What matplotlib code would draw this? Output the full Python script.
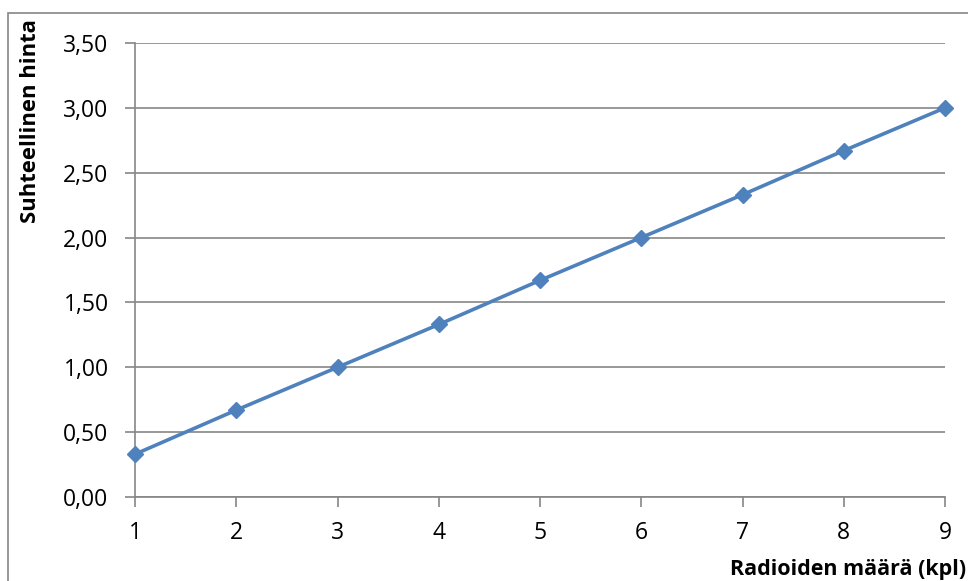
import matplotlib
matplotlib.use("Agg")
import matplotlib.pyplot as plt
from matplotlib.patches import Rectangle
from matplotlib.ticker import FuncFormatter, MultipleLocator

radios = [1, 2, 3, 4, 5, 6, 7, 8, 9]
relative_price = [0.33, 0.67, 1.00, 1.33, 1.67, 2.00, 2.33, 2.67, 3.00]
x_label = "Radioiden määrä (kpl)"
y_label = "Suhteellinen hinta"

plt.rcParams['font.family'] = ['Open Sans', 'DejaVu Sans']

fig = plt.figure(figsize=(9.68, 5.81), dpi=100)
ax = fig.add_axes([135/968, 1-497/581, (945-135)/968, (497-43)/581])

grid_c = '#868686'
ax.plot(radios, relative_price, color='#4F81BD', lw=2.6, marker='D', ms=8.5,
        markerfacecolor='#4F81BD', markeredgecolor='#4F81BD', zorder=3, clip_on=False)

ax.set_xlim(1, 9)
ax.set_ylim(0, 3.5)
ax.yaxis.set_major_locator(MultipleLocator(0.5))
ax.xaxis.set_major_locator(MultipleLocator(1))
ax.yaxis.set_major_formatter(FuncFormatter(lambda v, p: f"{v:.2f}".replace('.', ',')))
ax.grid(axis='y', color=grid_c, lw=1.2)
ax.set_axisbelow(True)
for s in ['top', 'right']:
    ax.spines[s].set_visible(False)
for s in ['left', 'bottom']:
    ax.spines[s].set_color(grid_c)
    ax.spines[s].set_linewidth(1.2)
ax.tick_params(axis='both', direction='out', color=grid_c, width=1.2, length=7,
               labelsize=16.5, labelcolor='black')
ax.tick_params(axis='y', pad=12)
ax.tick_params(axis='x', pad=10)

fig.text(966/968, 1-569/581, x_label, ha='right', va='center', fontsize=15.5, fontweight='bold')
fig.text(31/968, 1-19/581, y_label, ha='center', va='top', rotation=90, fontsize=15.8, fontweight='bold')

fig.patches.append(Rectangle((8/968, -0.1), 1.2, 1-13/581+0.1, transform=fig.transFigure,
                             fill=False, edgecolor='#868686', lw=1.2))

fig.savefig('out.png', dpi=100)
